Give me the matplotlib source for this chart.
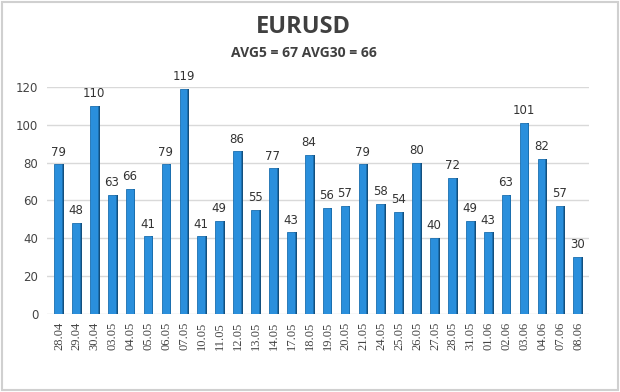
import matplotlib.pyplot as plt
import numpy as np

dates = ['28.04', '29.04', '30.04', '03.05', '04.05', '05.05', '06.05', '07.05',
         '10.05', '11.05', '12.05', '13.05', '14.05', '17.05', '18.05', '19.05',
         '20.05', '21.05', '24.05', '25.05', '26.05', '27.05', '28.05', '31.05',
         '01.06', '02.06', '03.06', '04.06', '07.06', '08.06']
values = [79, 48, 110, 63, 66, 41, 79, 119, 41, 49, 86, 55, 77, 43, 84, 56,
          57, 79, 58, 54, 80, 40, 72, 49, 43, 63, 101, 82, 57, 30]
yticks = [0, 20, 40, 60, 80, 100, 120]

fig = plt.figure(figsize=(6.2, 3.92), dpi=100)
# light frame around the picture
fig.patches.append(plt.Rectangle((0.003, 0.004), 0.994, 0.992, transform=fig.transFigure,
                                 fill=False, edgecolor='#d0d0d0', linewidth=1.5))

ax = fig.add_axes([0.075, 0.2, 0.875, 0.578])
x = np.arange(len(values))

# front face + darker side face for a 3D look
ax.bar(x - 0.05, values, width=0.44, color='#2a8fdc', edgecolor='#1b6fb0', linewidth=0.6, zorder=3)
ax.bar(x + 0.21, values, width=0.12, color='#14507e', linewidth=0, zorder=2)

for xi, v in zip(x, values):
    ax.text(xi - 0.05, v + 3, str(v), ha='center', va='bottom', fontsize=8.5, color='#333333',
            clip_on=False)

ax.set_ylim(0, 120)
ax.set_xlim(-0.7, len(values) - 0.4)
ax.set_yticks(yticks)
ax.set_yticklabels([str(t) for t in yticks], fontsize=8.5, color='#444444')
ax.set_xticks(x)
ax.set_xticklabels(dates, rotation=90, fontsize=9, color='#444444', fontfamily='Liberation Serif')
ax.tick_params(length=0, pad=6)
ax.grid(axis='y', color='#d9d9d9', linewidth=1, zorder=0)
for s in ax.spines.values():
    s.set_visible(False)

fig.text(0.49, 0.93, 'EURUSD', ha='center', va='center', fontsize=17, fontweight='bold',
         color='#404040', fontfamily='Open Sans')
fig.text(0.49, 0.865, 'AVG5 = 67 AVG30 = 66', ha='center', va='center', fontsize=10,
         fontweight='bold', color='#404040', fontfamily='Open Sans')

fig.savefig('out.png', dpi=100)
